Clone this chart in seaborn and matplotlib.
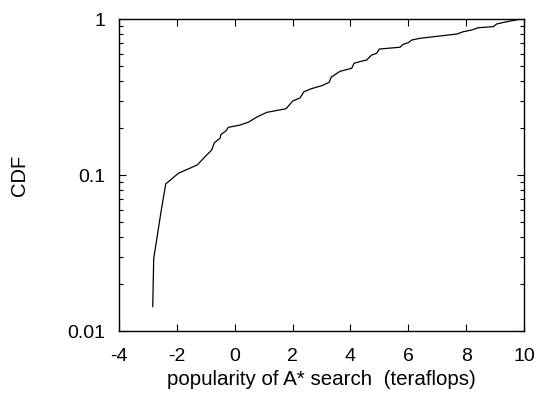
import matplotlib
matplotlib.use("Agg")
import matplotlib.pyplot as plt
import seaborn as sns
import pandas as pd
from matplotlib.ticker import FixedLocator, FixedFormatter, LogLocator, NullFormatter

popularity = [-2.834, -2.800, -2.537, -2.385, -1.950, -1.293, -1.027, -0.795, -0.705, -0.508,
              -0.474, -0.301, -0.221, 0.183, 0.470, 0.781, 1.106, 1.773, 1.887, 2.005,
              2.257, 2.395, 2.662, 3.035, 3.270, 3.336, 3.640, 4.044, 4.124, 4.307,
              4.563, 4.736, 4.908, 4.998, 5.714, 5.828, 6.001, 6.118, 6.405, 7.674,
              7.902, 8.192, 8.420, 8.939, 9.056, 9.402, 9.862]
cdf = [0.0143, 0.0292, 0.0597, 0.0876, 0.1025, 0.116, 0.131, 0.1446, 0.161, 0.172,
       0.182, 0.192, 0.202, 0.209, 0.218, 0.236, 0.252, 0.266, 0.281, 0.298,
       0.312, 0.342, 0.358, 0.375, 0.394, 0.424, 0.462, 0.483, 0.520, 0.532,
       0.546, 0.588, 0.603, 0.642, 0.659, 0.689, 0.705, 0.733, 0.752, 0.801,
       0.829, 0.850, 0.879, 0.893, 0.929, 0.961, 0.996]
x_ticks = [-4, -2, 0, 2, 4, 6, 8, 10]
y_ticks = [0.01, 0.1, 1]
y_tick_labels = ["0.01", "0.1", "1"]

sns.set_theme(style="ticks")
plt.rcParams['font.family'] = ['Liberation Sans', 'DejaVu Sans']
plt.rcParams['text.color'] = 'black'
plt.rcParams['axes.labelcolor'] = 'black'

df = pd.DataFrame({"x": popularity, "y": cdf})

FS = 14
fig = plt.figure(figsize=(5.41, 3.94), dpi=100)
ax = fig.add_axes([119 / 541, 63 / 394, 405 / 541, 312 / 394])
sns.lineplot(data=df, x="x", y="y", ax=ax, color="black", linewidth=0.9,
             estimator=None, sort=False)
ax.set_yscale("log")
ax.set_xlim(-4, 10)
ax.set_ylim(0.01, 1)
ax.xaxis.set_major_locator(FixedLocator(x_ticks))
ax.set_xticklabels([str(t) for t in x_ticks])
ax.yaxis.set_major_locator(FixedLocator(y_ticks))
ax.yaxis.set_major_formatter(FixedFormatter(y_tick_labels))
ax.yaxis.set_minor_locator(LogLocator(base=10, subs=range(2, 10)))
ax.yaxis.set_minor_formatter(NullFormatter())
ax.tick_params(which="both", direction="in", top=True, right=True, colors="black",
               labelsize=FS, width=0.8, labelcolor="black")
ax.tick_params(which="major", length=5)
ax.tick_params(which="minor", length=3)
ax.tick_params(axis="x", which="major", pad=12)
ax.tick_params(axis="y", which="major", pad=10)
for s in ax.spines.values():
    s.set_color("black")
    s.set_linewidth(1.0)
ax.set_xlabel("popularity of A* search  (teraflops)", fontsize=14.8, labelpad=4)
ax.set_ylabel("CDF", fontsize=14.5)
ax.yaxis.set_label_coords(-0.222, 0.5)
fig.savefig("out.png", dpi=100)
